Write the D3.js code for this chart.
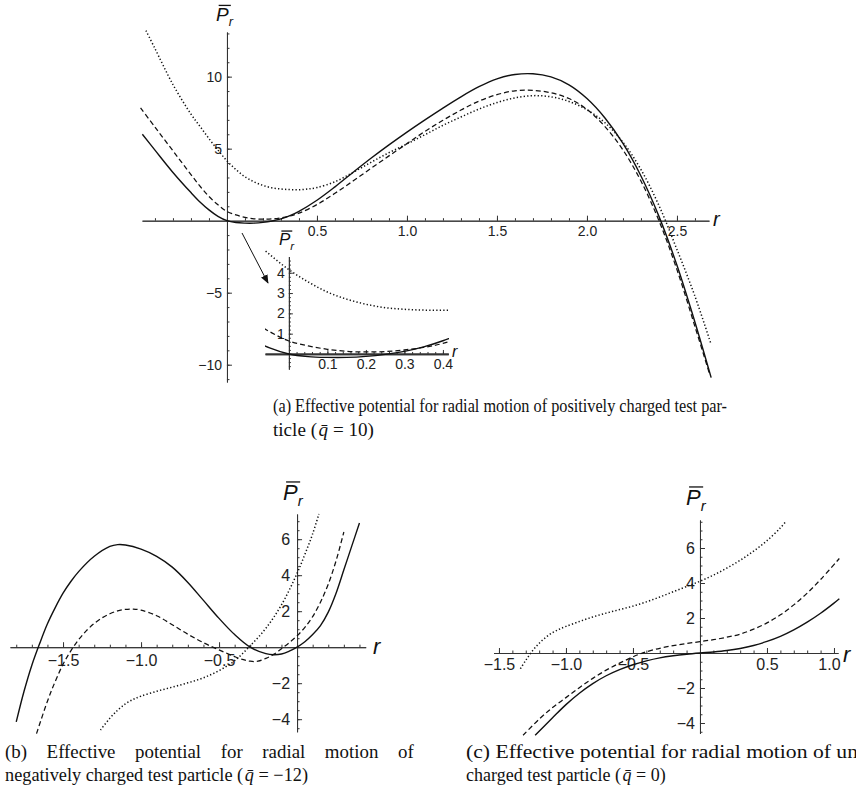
<!DOCTYPE html>
<html>
<head>
<meta charset="utf-8">
<script src="https://cdnjs.cloudflare.com/ajax/libs/d3/7.8.5/d3.min.js"></script>
<style>
  body { margin: 0; background: #fff; }
  svg { display: block; }
  .axis path, .axis line { stroke: #333; }
  .axis text { font-family: "Liberation Sans", Arial, sans-serif; fill: #222; }
  .caption { font-family: "Liberation Serif", "Times New Roman", serif; font-size: 18px; fill: #111; }
  .lbl { font-family: "Liberation Sans", Arial, sans-serif; font-style: italic; fill: #111; }
</style>
</head>
<body>
<div id="plot"></div>
<script>
// Effective potential P_r, three panels (a) q=10, (b) q=-12, (c) q=0

// ---- panel (a) data ----
var aSolidR = [-0.47,-0.4,-0.3,-0.2,-0.15,-0.1,-0.05,0,0.05,0.1,0.15,0.2,0.25,0.3,0.35,0.4,0.5,0.6,0.7,0.8,0.9,1.0,1.1,1.2,1.3,1.4,1.5,1.6,1.7,1.8,1.9,2.0,2.1,2.2,2.3,2.4,2.5,2.6,2.69];
var aSolidV = [6.0,4.9,3.35,1.95,1.3,0.75,0.3,0,-0.13,-0.17,-0.17,-0.12,-0.02,0.13,0.35,0.65,1.42,2.35,3.35,4.33,5.26,6.15,7.0,7.82,8.6,9.3,9.85,10.15,10.2,9.98,9.43,8.48,7.13,5.36,3.1,0.3,-3.1,-7.05,-10.9];
var aDashR = [-0.48,-0.4,-0.3,-0.2,-0.15,-0.1,-0.05,0,0.05,0.1,0.15,0.2,0.25,0.3,0.35,0.4,0.5,0.6,0.7,0.8,0.9,1.0,1.1,1.2,1.3,1.4,1.5,1.6,1.7,1.8,1.9,2.0,2.1,2.2,2.3,2.4,2.5,2.6,2.68];
var aDashV = [7.83,6.5,4.85,3.2,2.4,1.68,1.1,0.64,0.4,0.23,0.13,0.1,0.12,0.2,0.32,0.52,1.12,1.9,2.75,3.63,4.5,5.35,6.2,6.97,7.68,8.3,8.75,9.02,9.05,8.88,8.48,7.73,6.53,4.91,2.75,0.0,-3.4,-7.35,-10.6];
var aDotR = [-0.45,-0.4,-0.3,-0.2,-0.15,-0.1,-0.05,0,0.05,0.1,0.15,0.2,0.25,0.3,0.35,0.4,0.45,0.5,0.6,0.7,0.8,0.9,1.0,1.1,1.2,1.3,1.4,1.5,1.6,1.7,1.8,1.9,2.0,2.1,2.2,2.3,2.4,2.5,2.6,2.69];
var aDotV = [13.2,11.95,9.45,7.4,6.55,5.7,4.9,4.15,3.55,3.05,2.7,2.45,2.28,2.2,2.16,2.15,2.2,2.3,2.7,3.35,4.05,4.72,5.33,5.97,6.62,7.2,7.75,8.2,8.53,8.68,8.6,8.28,7.7,6.8,5.45,3.55,1.05,-2.0,-5.25,-8.6];

// ---- panel (b) data ----
var bSolidR = [-1.8,-1.75,-1.7,-1.65,-1.6,-1.55,-1.5,-1.45,-1.4,-1.3,-1.2,-1.15,-1.1,-1.0,-0.9,-0.8,-0.7,-0.6,-0.5,-0.4,-0.3,-0.2,-0.15,-0.1,-0.05,0,0.05,0.1,0.15,0.2,0.25,0.3,0.35,0.4];
var bSolidV = [-4.15,-2.45,-1.0,0.2,1.3,2.2,3.0,3.65,4.2,5.05,5.6,5.7,5.68,5.45,5.05,4.45,3.6,2.6,1.6,0.7,0.0,-0.36,-0.42,-0.38,-0.22,0,0.3,0.7,1.2,1.95,3.0,4.3,5.6,6.9];
var bDashR = [-1.67,-1.6,-1.55,-1.5,-1.45,-1.4,-1.35,-1.3,-1.25,-1.2,-1.15,-1.1,-1.05,-1.0,-0.9,-0.8,-0.7,-0.6,-0.5,-0.4,-0.35,-0.3,-0.25,-0.2,-0.15,-0.1,-0.05,0,0.05,0.1,0.15,0.2,0.25,0.3];
var bDashV = [-4.8,-3.0,-1.9,-0.95,-0.2,0.42,0.92,1.32,1.63,1.86,2.02,2.1,2.12,2.06,1.75,1.25,0.72,0.25,-0.15,-0.52,-0.68,-0.78,-0.78,-0.62,-0.4,-0.08,0.25,0.63,1.1,1.7,2.5,3.5,4.8,6.4];
var bDotR = [-1.26,-1.2,-1.15,-1.1,-1.05,-1.0,-0.9,-0.8,-0.7,-0.6,-0.5,-0.4,-0.3,-0.2,-0.1,0,0.05,0.1,0.14];
var bDotV = [-4.6,-3.95,-3.5,-3.15,-2.9,-2.72,-2.45,-2.22,-1.98,-1.7,-1.3,-0.75,0.08,1.05,2.35,4.1,5.15,6.3,7.4];

// ---- panel (c) data ----
var cSolidR = [-1.23,-1.1,-1.0,-0.9,-0.8,-0.7,-0.6,-0.5,-0.4,-0.3,-0.2,-0.1,0,0.1,0.2,0.3,0.4,0.5,0.6,0.7,0.8,0.9,1.0,1.04];
var cSolidV = [-4.7,-3.7,-2.95,-2.3,-1.75,-1.3,-0.95,-0.67,-0.45,-0.28,-0.16,-0.07,0,0.06,0.14,0.26,0.43,0.66,0.95,1.32,1.76,2.27,2.85,3.1];
var cDashR = [-1.32,-1.2,-1.1,-1.0,-0.9,-0.8,-0.7,-0.6,-0.5,-0.45,-0.4,-0.3,-0.2,-0.1,0,0.1,0.2,0.3,0.4,0.5,0.6,0.7,0.8,0.9,1.04];
var cDashV = [-4.7,-3.78,-3.12,-2.55,-1.98,-1.45,-0.98,-0.58,-0.22,-0.06,0.07,0.27,0.42,0.54,0.65,0.76,0.9,1.08,1.36,1.72,2.18,2.75,3.42,4.2,5.4];
var cDotR = [-1.34,-1.3,-1.25,-1.2,-1.15,-1.1,-1.05,-1.0,-0.9,-0.8,-0.7,-0.6,-0.5,-0.4,-0.3,-0.2,-0.1,0,0.1,0.2,0.3,0.4,0.5,0.6,0.64];
var cDotV = [-0.9,-0.42,0.12,0.56,0.9,1.16,1.36,1.52,1.8,2.06,2.28,2.48,2.68,2.92,3.2,3.5,3.8,4.1,4.45,4.85,5.3,5.82,6.42,7.15,7.5];

// tick labels
var aXTicks = [0.5, 1.0, 1.5, 2.0, 2.5];
var aYTicks = [-10, -5, 5, 10];
var insetXTicks = [0.1, 0.2, 0.3, 0.4];
var insetYTicks = [1, 2, 3, 4];
var bXTicks = [-1.5, -1.0, -0.5];
var bYTicks = [-4, -2, 2, 4, 6];
var cXTicks = [-1.5, -1.0, -0.5, 0.5, 1.0];
var cYTicks = [-4, -2, 2, 4, 6];

var svgWidth = 856;
var svgHeight = 800;

var svg = d3.select("#plot")
  .append("svg")
  .attr("width", svgWidth)
  .attr("height", svgHeight);

svg.append("defs").append("marker")
  .attr("id", "arrow")
  .attr("viewBox", "0 0 10 10")
  .attr("refX", 9).attr("refY", 5)
  .attr("markerWidth", 9).attr("markerHeight", 9)
  .attr("markerUnits", "userSpaceOnUse")
  .attr("orient", "auto")
  .append("path")
  .attr("d", "M0,1 L10,5 L0,9 Z")
  .attr("fill", "#111");

var styles = {
  solid: { w: 1.4, dash: null },
  dash: { w: 1.25, dash: "5,3" },
  dot: { w: 1.5, dash: "1.3,2.2" }
};

function zip(rs, vs) {
  return rs.map(function (r, i) { return { r: r, v: vs[i] }; });
}

function drawAxes(g, x, y, o) {
  var xf = d3.format(".1f"), yf = d3.format("d");
  // major ticks with labels (ticks point inward, labels outside)
  g.append("g").attr("class", "axis xmaj")
    .attr("transform", `translate(0, ${y(0)})`)
    .call(d3.axisBottom(x).tickValues(o.xMajor).tickFormat(xf)
      .tickSizeInner(-o.major).tickSizeOuter(0).tickPadding(o.xPad))
    .call(function (s) { s.selectAll("text").style("font-size", o.fs + "px"); });
  g.append("g").attr("class", "axis xmin")
    .attr("transform", `translate(0, ${y(0)})`)
    .call(d3.axisBottom(x).tickValues(o.xMinor).tickFormat("")
      .tickSizeInner(-o.minor).tickSizeOuter(0));
  g.append("g").attr("class", "axis")
    .attr("transform", `translate(${x(0)}, 0)`)
    .call(d3.axisLeft(y).tickValues(o.yMajor).tickFormat(yf)
      .tickSizeInner(-o.major).tickSizeOuter(0).tickPadding(o.yPad))
    .call(function (s) { s.selectAll("text").style("font-size", o.fs + "px"); });
  g.append("g").attr("class", "axis")
    .attr("transform", `translate(${x(0)}, 0)`)
    .call(d3.axisLeft(y).tickValues(o.yMinor).tickFormat("")
      .tickSizeInner(-o.minor).tickSizeOuter(0));
}

function drawCurves(g, x, y, series) {
  var line = d3.line()
    .x(function (d) { return x(d.r); })
    .y(function (d) { return y(d.v); })
    .curve(d3.curveCatmullRom.alpha(0.5));
  series.forEach(function (s) {
    g.append("path")
      .datum(s.data)
      .attr("d", line)
      .attr("fill", "none")
      .attr("stroke", "#111")
      .attr("stroke-width", styles[s.style].w)
      .attr("stroke-dasharray", styles[s.style].dash);
  });
}

function pLabel(x, y, fs) {
  var t = svg.append("text").attr("class", "lbl")
    .attr("x", x).attr("y", y).style("font-size", fs + "px");
  t.append("tspan").text("P");
  t.append("tspan").attr("dy", fs * 0.28).style("font-size", (fs * 0.68) + "px").text("r");
  svg.append("line")
    .attr("x1", x + fs * 0.14).attr("x2", x + fs * 0.78)
    .attr("y1", y - fs * 0.82).attr("y2", y - fs * 0.82)
    .attr("stroke", "#111").attr("stroke-width", 1.3);
}

function rLabel(x, y, fs) {
  svg.append("text").attr("class", "lbl")
    .attr("x", x).attr("y", y).style("font-size", fs + "px").text("r");
}

// Step 1: panel (a)
// ==============================
var xA = d3.scaleLinear().domain([-0.472, 2.678]).range([142, 709]);
var yA = d3.scaleLinear().domain([13.1, -11.2]).range([32, 382]);
var gA = svg.append("g");

drawAxes(gA, xA, yA, {
  xMajor: aXTicks, xMinor: d3.range(-0.4, 2.65, 0.1),
  yMajor: aYTicks, yMinor: d3.range(-11, 14, 1),
  major: 5, minor: 2.5, fs: 14, xPad: 5, yPad: 5
});

var aSeries = [
  { style: "solid", data: zip(aSolidR, aSolidV) },
  { style: "dash", data: zip(aDashR, aDashV) },
  { style: "dot", data: zip(aDotR, aDotV) }
];
drawCurves(gA, xA, yA, aSeries);
pLabel(216, 21, 19);
rLabel(713, 226, 20);

// Step 2: inset of panel (a)
// ==============================
var xI = d3.scaleLinear().domain([-0.062, 0.414]).range([265, 448.3]);
var yI = d3.scaleLinear().domain([4.8, -0.75]).range([256.5, 369.2]);

svg.append("clipPath").attr("id", "insetClip")
  .append("rect").attr("x", 265).attr("y", 250).attr("width", 184).attr("height", 120);

var gI = svg.append("g");
drawAxes(gI, xI, yI, {
  xMajor: insetXTicks, xMinor: d3.range(0.02, 0.41, 0.02),
  yMajor: insetYTicks, yMinor: d3.range(-0.6, 4.8, 0.2),
  major: 4, minor: 2, fs: 14, xPad: 5, yPad: 4
});
gI.selectAll(".xmaj .domain, .xmin .domain")
  .attr("stroke", "#888").attr("stroke-width", 1.8);

var gIc = svg.append("g").attr("clip-path", "url(#insetClip)");
drawCurves(gIc, xI, yI, aSeries);
pLabel(279, 245, 17);
rLabel(452, 357, 16);

svg.append("line")
  .attr("x1", 242).attr("y1", 233).attr("x2", 268).attr("y2", 283)
  .attr("stroke", "#111").attr("stroke-width", 1)
  .attr("marker-end", "url(#arrow)");

// Step 3: panel (b)
// ==============================
var xB = d3.scaleLinear().domain([-1.84, 0.44]).range([10, 365.7]);
var yB = d3.scaleLinear().domain([7.4, -4.7]).range([514, 731.8]);
var gB = svg.append("g");

drawAxes(gB, xB, yB, {
  xMajor: bXTicks, xMinor: d3.range(-1.8, 0.45, 0.1),
  yMajor: bYTicks, yMinor: d3.range(-4.5, 7.5, 0.5),
  major: 5, minor: 2.5, fs: 16, xPad: 7, yPad: 7
});
drawCurves(gB, xB, yB, [
  { style: "solid", data: zip(bSolidR, bSolidV) },
  { style: "dash", data: zip(bDashR, bDashV) },
  { style: "dot", data: zip(bDotR, bDotV) }
]);
pLabel(283, 500, 22);
rLabel(373, 654, 22);

// Step 4: panel (c)
// ==============================
var xC = d3.scaleLinear().domain([-1.54, 1.03]).range([493.6, 838]);
var yC = d3.scaleLinear().domain([7.6, -4.6]).range([520, 733.5]);
var gC = svg.append("g");

drawAxes(gC, xC, yC, {
  xMajor: cXTicks, xMinor: d3.range(-1.5, 1.05, 0.1),
  yMajor: cYTicks, yMinor: d3.range(-4.5, 7.6, 0.5),
  major: 5, minor: 2.5, fs: 16, xPad: 6, yPad: 5
});
// last label sits a little inside the axis end
gC.select(".xmaj").selectAll(".tick text")
  .filter(function (d) { return d === 1.0; })
  .attr("x", -5);
drawCurves(gC, xC, yC, [
  { style: "solid", data: zip(cSolidR, cSolidV) },
  { style: "dash", data: zip(cDashR, cDashV) },
  { style: "dot", data: zip(cDotR, cDotV) }
]);
pLabel(686, 505, 22);
rLabel(843, 662, 22);

// Step 5: captions
// ==============================
function captionLine(x, y, parts, width, justify, size) {
  var t = svg.append("text").attr("class", "caption")
    .attr("x", x).attr("y", y);
  if (size) t.style("font-size", size + "px");
  parts.forEach(function (p) {
    var s = t.append("tspan").text(p.t);
    if (p.i) s.style("font-style", "italic");
  });
  if (justify) {
    // glyphs at about natural width, word gaps stretched
    var sx = 1.05;
    var nat = t.node().getComputedTextLength();
    var txt = parts.map(function (p) { return p.t; }).join("");
    var spaces = txt.split(" ").length - 1;
    t.attr("x", 0).attr("y", 0)
      .attr("transform", `translate(${x}, ${y}) scale(${sx}, 1)`)
      .style("word-spacing", Math.max(0, (width / sx - nat) / spaces) + "px");
  } else if (width) {
    t.attr("textLength", width).attr("lengthAdjust", "spacingAndGlyphs");
  }
  return t;
}

captionLine(273, 412, [{ t: "(a) Effective potential for radial motion of positively charged test par-" }], 454);
captionLine(273, 436, [{ t: "ticle (\u200A" }, { t: "q\u0304", i: true }, { t: " = 10)" }], 101);
captionLine(5, 758, [{ t: "(b) Effective potential for radial motion of" }], 409, true);
captionLine(5, 781, [{ t: "negatively charged test particle (\u200A" }, { t: "q\u0304", i: true }, { t: " = \u221212)" }], 303);
captionLine(466, 758, [{ t: "(c) Effective potential for radial motion of un" }], 392);
captionLine(466, 781, [{ t: "charged test particle (\u200A" }, { t: "q\u0304", i: true }, { t: " = 0)" }], null, false, 18);
</script>
</body>
</html>
